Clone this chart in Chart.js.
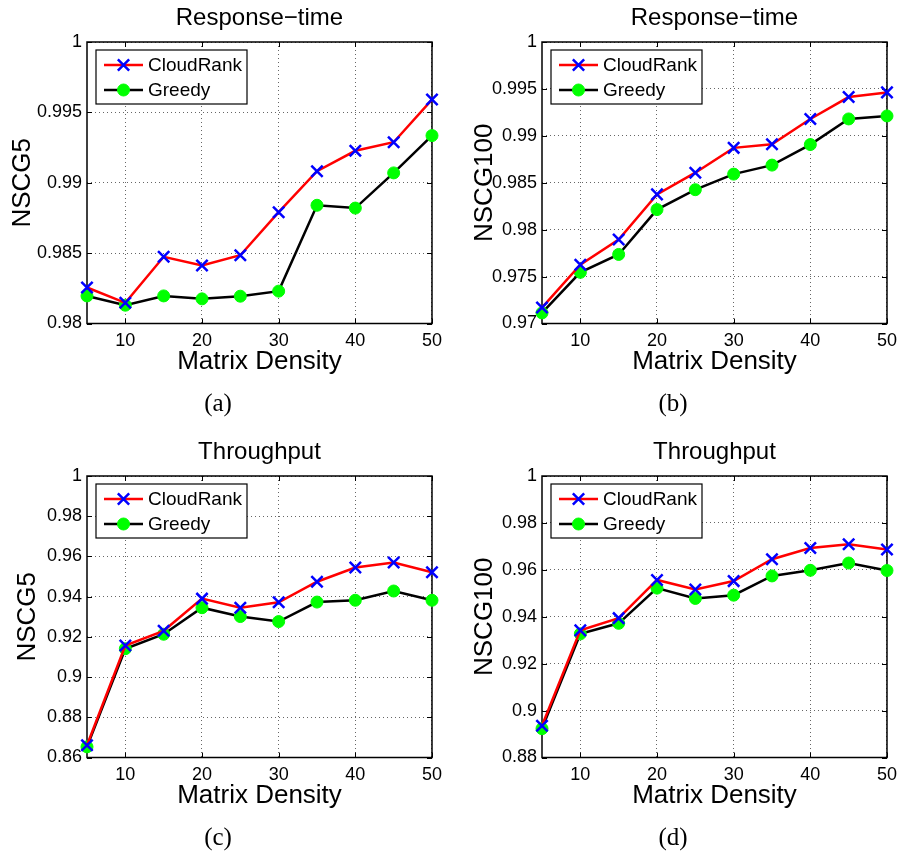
<!DOCTYPE html>
<html>
<head>
<meta charset="utf-8">
<script src="https://cdn.jsdelivr.net/npm/chart.js@4.4.0/dist/chart.umd.min.js"></script>
<style>
  body { margin: 0; background: #fff; width: 904px; height: 861px; position: relative; overflow: hidden; }
  canvas { position: absolute; }
</style>
</head>
<body>
<canvas id="rt5" width="449" height="427" style="left:0px;top:0px"></canvas>
<canvas id="rt100" width="449" height="427" style="left:455px;top:0px"></canvas>
<canvas id="tp5" width="449" height="427" style="left:0px;top:434px"></canvas>
<canvas id="tp100" width="449" height="427" style="left:455px;top:434px"></canvas>
<script>
// matrix density (%)
const density = [5, 10, 15, 20, 25, 30, 35, 40, 45, 50]
const xTicks = [10, 20, 30, 40, 50]

// (a) response-time, NSCG5
const rt5Cloud  = [0.98256, 0.98147, 0.98474, 0.98412, 0.98485, 0.98791, 0.99082, 0.99227, 0.99288, 0.99591]
const rt5Greedy = [0.98196, 0.98130, 0.98196, 0.98175, 0.98194, 0.98230, 0.98840, 0.98820, 0.99070, 0.99335]
const rt5Ticks  = [0.98, 0.985, 0.99, 0.995, 1]

// (b) response-time, NSCG100
const rt100Cloud  = [0.97170, 0.97626, 0.97895, 0.98376, 0.98607, 0.98872, 0.98911, 0.99180, 0.99413, 0.99463]
const rt100Greedy = [0.97113, 0.97545, 0.97736, 0.98214, 0.98426, 0.98592, 0.98688, 0.98907, 0.99180, 0.99212]
const rt100Ticks  = [0.97, 0.975, 0.98, 0.985, 0.99, 0.995, 1]

// (c) throughput, NSCG5
const tp5Cloud  = [0.8661, 0.9157, 0.9230, 0.9390, 0.9345, 0.9372, 0.9474, 0.9545, 0.9570, 0.9521]
const tp5Greedy = [0.8653, 0.9141, 0.9213, 0.9345, 0.9301, 0.9276, 0.9373, 0.9382, 0.9428, 0.9382]
const tp5Ticks  = [0.86, 0.88, 0.9, 0.92, 0.94, 0.96, 0.98, 1]

// (d) throughput, NSCG100
const tp100Cloud  = [0.8935, 0.9342, 0.9394, 0.9557, 0.9516, 0.9552, 0.9645, 0.9693, 0.9709, 0.9687]
const tp100Greedy = [0.8923, 0.9327, 0.9372, 0.9522, 0.9478, 0.9492, 0.9574, 0.9598, 0.9629, 0.9597]
const tp100Ticks  = [0.88, 0.9, 0.92, 0.94, 0.96, 0.98, 1]

const sans = 'Liberation Sans'

// matlab style box round the axes, with short ticks pointing inwards
const axesBox = {
  id: 'axesBox',
  beforeDatasetsDraw(chart) {
    const {ctx, chartArea: a, scales} = chart
    ctx.save()
    ctx.strokeStyle = '#000'
    ctx.lineWidth = 1
    ctx.beginPath()
    scales.x.ticks.forEach(t => {
      const px = Math.round(scales.x.getPixelForValue(t.value)) + 0.5
      ctx.moveTo(px, a.bottom); ctx.lineTo(px, a.bottom - 5)
      ctx.moveTo(px, a.top); ctx.lineTo(px, a.top + 5)
    })
    scales.y.ticks.forEach(t => {
      const py = Math.round(scales.y.getPixelForValue(t.value)) + 0.5
      ctx.moveTo(a.left, py); ctx.lineTo(a.left + 5, py)
      ctx.moveTo(a.right, py); ctx.lineTo(a.right - 5, py)
    })
    ctx.stroke()
    ctx.lineWidth = 1.5
    ctx.strokeRect(a.left, a.top, a.right - a.left, a.bottom - a.top)
    ctx.restore()
  }
}

// legend box in the top left corner of the plot
const boxLegend = {
  id: 'boxLegend',
  afterDatasetsDraw(chart) {
    const {ctx, chartArea} = chart
    const x0 = chartArea.left + 9
    const y0 = chartArea.top + 8
    ctx.save()
    ctx.fillStyle = '#fff'
    ctx.fillRect(x0, y0, 151, 54)
    ctx.strokeStyle = '#000'
    ctx.lineWidth = 1.2
    ctx.strokeRect(x0, y0, 151, 54)
    chart.data.datasets.forEach((ds, i) => {
      const y = y0 + 15 + i * 25
      ctx.strokeStyle = ds.borderColor
      ctx.lineWidth = ds.borderWidth
      ctx.beginPath()
      ctx.moveTo(x0 + 8, y); ctx.lineTo(x0 + 47, y)
      ctx.stroke()
      ctx.fillStyle = ds.pointBackgroundColor
      ctx.strokeStyle = ds.pointBorderColor
      ctx.lineWidth = ds.pointBorderWidth
      Chart.helpers.drawPoint(ctx, {pointStyle: ds.pointStyle, radius: ds.pointRadius, borderWidth: ds.pointBorderWidth, rotation: 0}, x0 + 27.5, y)
      ctx.fillStyle = '#000'
      ctx.font = '19px "' + sans + '"'
      ctx.textBaseline = 'middle'
      ctx.textAlign = 'left'
      ctx.fillText(ds.label, x0 + 52, y + 1)
    })
    ctx.restore()
  }
}

function toPoints(vals) {
  return density.map((d, i) => ({x: d, y: vals[i]}))
}

function makeChart(id, title, yLabel, yTicks, cloud, greedy, caption, yTitlePad) {
  return new Chart(document.getElementById(id), {
    type: 'line',
    data: {
      datasets: [{
        label: 'CloudRank',
        data: toPoints(cloud),
        borderColor: '#ff0000',
        borderWidth: 2.5,
        pointStyle: 'crossRot',
        pointRadius: 8,
        pointBorderWidth: 2.5,
        pointBorderColor: '#0000ff',
        pointBackgroundColor: '#0000ff',
        clip: false
      }, {
        label: 'Greedy',
        data: toPoints(greedy),
        borderColor: '#000000',
        borderWidth: 2.5,
        pointStyle: 'circle',
        pointRadius: 6,
        pointBorderWidth: 1,
        pointBorderColor: '#00ff00',
        pointBackgroundColor: '#00ff00',
        clip: false
      }]
    },
    options: {
      responsive: false,
      animation: false,
      devicePixelRatio: 1,
      layout: {padding: {left: 0, right: 13, top: 0, bottom: 0}},
      plugins: {
        legend: {display: false},
        tooltip: {enabled: false},
        title: {
          display: true, text: title, fullSize: false, color: '#000',
          font: {family: sans, size: 24, weight: 'normal'},
          padding: {top: 4, bottom: 9.2}
        },
        subtitle: {
          display: true, text: caption, position: 'bottom', color: '#000',
          font: {family: 'Liberation Serif', size: 25, weight: 'normal'},
          padding: {top: 0, bottom: 8}
        }
      },
      scales: {
        x: {
          type: 'linear', min: 5, max: 50,
          afterBuildTicks: s => { s.ticks = xTicks.map(v => ({value: v})) },
          afterFit: s => { s.height = 65.5 },
          grid: {color: '#666', lineWidth: 1, drawTicks: false},
          border: {display: false, dash: [1, 3]},
          ticks: {color: '#000', font: {family: sans, size: 18}, padding: 7, maxRotation: 0, autoSkip: false},
          title: {display: true, text: 'Matrix Density', color: '#000', font: {family: sans, size: 26}, padding: {top: 0, bottom: 11.4}}
        },
        y: {
          type: 'linear', min: yTicks[0], max: yTicks[yTicks.length - 1],
          afterBuildTicks: s => { s.ticks = yTicks.map(v => ({value: v})) },
          afterFit: s => { s.width = 87 },
          grid: {color: '#666', lineWidth: 1, drawTicks: false},
          border: {display: false, dash: [1, 3]},
          ticks: {color: '#000', font: {family: sans, size: 18}, padding: 5, callback: v => String(+v.toFixed(4))},
          title: {display: true, text: yLabel, color: '#000', font: {family: sans, size: 26}, padding: {top: yTitlePad, bottom: 0}}
        }
      }
    },
    plugins: [axesBox, boxLegend]
  })
}

makeChart('rt5', 'Response\u2212time', 'NSCG5', rt5Ticks, rt5Cloud, rt5Greedy, '(a)', 7)
makeChart('rt100', 'Response\u2212time', 'NSCG100', rt100Ticks, rt100Cloud, rt100Greedy, '(b)', 14)
makeChart('tp5', 'Throughput', 'NSCG5', tp5Ticks, tp5Cloud, tp5Greedy, '(c)', 12)
makeChart('tp100', 'Throughput', 'NSCG100', tp100Ticks, tp100Cloud, tp100Greedy, '(d)', 14)
</script>
</body>
</html>
